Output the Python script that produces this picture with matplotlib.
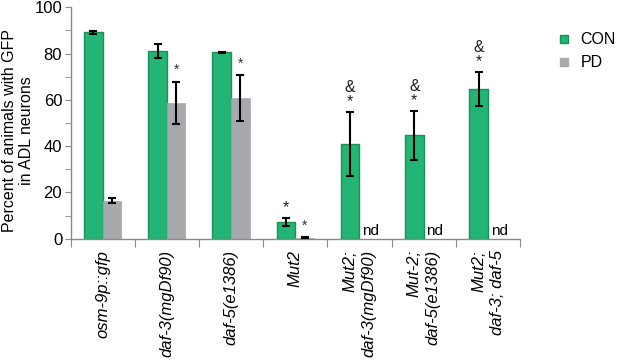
import numpy as np
import matplotlib
matplotlib.use('Agg')
import matplotlib.pyplot as plt
from matplotlib.lines import Line2D

plt.rcParams['font.family'] = ['Liberation Sans', 'DejaVu Sans']

labels = ['osm-9p::gfp', 'daf-3(mgDf90)', 'daf-5(e1386)', 'Mut2',
          'Mut2;\ndaf-3(mgDf90)', 'Mut-2;\ndaf-5(e1386)', 'Mut2;\ndaf-3; daf-5']
con = [89.2, 81.2, 80.5, 7.3, 40.9, 44.8, 64.7]
con_err = [0.6, 3.0, 0.3, 1.8, 13.9, 10.6, 7.5]
pd_vals = [16.5, 58.6, 60.7, 0.5, 0, 0, 0]
pd_err = [1.0, 9.2, 10.0, 0.2, 0, 0, 0]
pd_measured = [True, True, True, True, False, False, False]
con_marks = ['', '', '', '*', '&\n*', '&\n*', '&\n*']
pd_marks = ['', '*', '*', '*', '', '', '']

green = '#22b573'
green_edge = '#1b8f5a'
grey = '#a7a9ac'
axcol = '#8a8a8a'

fig = plt.figure(figsize=(6.17, 3.63), dpi=100)
ax = fig.add_axes([70.5 / 617, 1 - 238.7 / 363, (520 - 70.5) / 617, (238.7 - 7.3) / 363])

x = np.arange(len(labels))
w = 0.29
ax.bar(x - w / 2, con, w, color=green, edgecolor=green_edge, linewidth=1.0, zorder=2)
for i in range(len(labels)):
    if pd_measured[i]:
        ax.bar(x[i] + w / 2, pd_vals[i], w, color=grey, edgecolor=grey, linewidth=0.5, zorder=2)
        ax.errorbar(x[i] + w / 2, pd_vals[i], yerr=pd_err[i], fmt='none', ecolor='black',
                    elinewidth=1.5, capsize=3, capthick=1.5, zorder=3)
        if pd_marks[i]:
            ax.text(x[i] + w / 2, pd_vals[i] + pd_err[i] + 2, pd_marks[i], ha='center',
                    va='bottom', fontsize=10, color='#333333')
    else:
        ax.text(x[i] + w / 2 + 0.03, 0.3, 'nd', ha='center', va='bottom', fontsize=11)
ax.errorbar(x - w / 2, con, yerr=con_err, fmt='none', ecolor='black',
            elinewidth=1.5, capsize=3, capthick=1.5, zorder=3)
for i in range(len(labels)):
    if con_marks[i]:
        ax.text(x[i] - w / 2, con[i] + con_err[i] + 1.0, con_marks[i], ha='center',
                va='bottom', fontsize=11.5, color='#222222', linespacing=0.95)

ax.set_xlim(-0.5, len(labels) - 0.5)
ax.set_ylim(0, 100)
ax.set_yticks([0, 20, 40, 60, 80, 100])
ax.set_yticks([10, 30, 50, 70, 90], minor=True)
ax.set_xticks(np.arange(len(labels) + 1) - 0.5)
ax.set_xticklabels([])
ax.tick_params(axis='x', length=6, color=axcol, direction='out')
ax.tick_params(axis='y', which='major', length=4, color=axcol, labelsize=12, pad=2)
ax.tick_params(axis='y', which='minor', length=4, color=axcol)
for sp in ['top', 'right']:
    ax.spines[sp].set_visible(False)
for sp in ['left', 'bottom']:
    ax.spines[sp].set_color(axcol)
    ax.spines[sp].set_linewidth(1.0)

for i, lab in enumerate(labels):
    ax.text(x[i], -5, lab, rotation=90, ha='center', va='top', fontsize=12,
            fontstyle='italic', multialignment='right', transform=ax.transData,
            clip_on=False, linespacing=1.3)

fig.text(18 / 617, 1 - 131 / 363, 'Percent of animals with GFP\nin ADL neurons',
         rotation=90, ha='center', va='center', fontsize=11.5, linespacing=1.1)

handles = [Line2D([], [], marker='s', linestyle='none', markersize=6, markerfacecolor=green,
                  markeredgecolor=green_edge, label='CON'),
           Line2D([], [], marker='s', linestyle='none', markersize=6, markerfacecolor=grey,
                  markeredgecolor=grey, label='PD')]
fig.legend(handles=handles, loc='upper left', bbox_to_anchor=(542 / 617, 1 - 18 / 363),
           frameon=False, fontsize=11.5, handletextpad=0.5, labelspacing=0.5, handlelength=1)

fig.savefig('out.png', dpi=100)
